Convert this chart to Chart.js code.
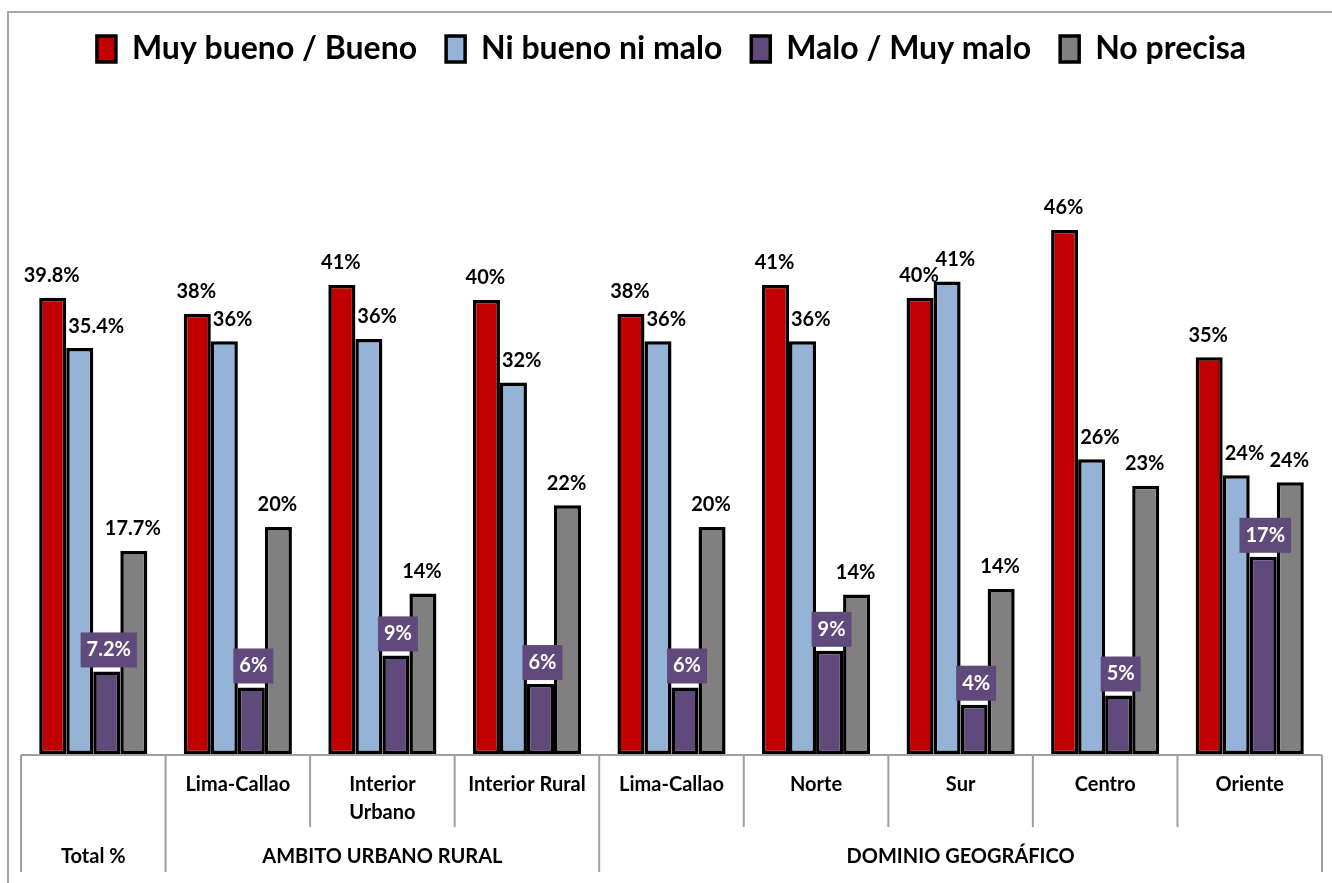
<!DOCTYPE html>
<html>
<head>
<meta charset="utf-8">
<script src="https://cdn.jsdelivr.net/npm/chart.js@4/dist/chart.umd.min.js"></script>
<style>
    html, body { margin: 0; padding: 0; background: #fff; }
    #wrap { width: 1332px; height: 883px; }
</style>
</head>
<body>
<div id="wrap"><canvas id="chart" width="1332" height="883"></canvas></div>
<script>
// Categorías (eje X) y grupos de la tabla inferior
const categories = ['', 'Lima-Callao', ['Interior', 'Urbano'], 'Interior Rural', 'Lima-Callao', 'Norte', 'Sur', 'Centro', 'Oriente'];
const groupNames = ['Total %', 'AMBITO URBANO RURAL', 'DOMINIO GEOGRÁFICO'];
const groupStart = [0, 1, 4];

// Series (%)
const seriesNames = ['Muy bueno / Bueno', 'Ni bueno ni malo', 'Malo / Muy malo', 'No precisa'];
const muyBueno  = [39.8, 38.4, 40.9, 39.6, 38.4, 40.9, 39.8, 45.7, 34.6];
const niBueno   = [35.4, 36.0, 36.2, 32.4, 36.0, 36.0, 41.2, 25.7, 24.3];
const malo      = [7.2, 5.8, 8.6, 6.1, 5.8, 9.0, 4.3, 5.1, 17.2];
const noPrecisa = [17.7, 19.8, 14.0, 21.7, 19.8, 13.9, 14.4, 23.4, 23.7];

const colors = ['#C00000', '#95B3D7', '#604A7B', '#808080'];
const FONT = 'Lato';

// Total con un decimal, el resto redondeado
function fmt(v, i) {
    return (i === 0 ? v.toFixed(1) : Math.round(v)) + '%';
}

// Marco del gráfico
const framePlugin = {
    id: 'frame',
    beforeDraw(chart) {
        const ctx = chart.ctx;
        ctx.save();
        ctx.strokeStyle = '#A6A6A6';
        ctx.lineWidth = 2;
        ctx.beginPath();
        ctx.moveTo(8, chart.height);
        ctx.lineTo(8, 12);
        ctx.lineTo(chart.width, 12);
        ctx.stroke();
        ctx.restore();
    }
};

// Tabla de categorías bajo el eje
const tablePlugin = {
    id: 'table',
    beforeDatasetsDraw(chart) {
        const ctx = chart.ctx;
        const x = chart.scales.x;
        const bottom = chart.chartArea.bottom;
        const n = categories.length;
        const half = (x.getPixelForValue(1) - x.getPixelForValue(0)) / 2;
        const edge = i => (i < n ? x.getPixelForValue(i) - half : x.getPixelForValue(n - 1) + half);

        ctx.save();
        ctx.strokeStyle = '#A0A0A0';
        ctx.lineWidth = 2;
        ctx.beginPath();
        ctx.moveTo(edge(0), bottom + 1);
        ctx.lineTo(edge(n), bottom + 1);
        for (let i = 0; i <= n; i++) {
            const full = groupStart.includes(i) || i === n;
            ctx.moveTo(edge(i), bottom + 1);
            ctx.lineTo(edge(i), bottom + (full ? 118 : 73));
        }
        ctx.stroke();

        ctx.fillStyle = '#000';
        ctx.font = 'bold 20px ' + FONT;
        ctx.textAlign = 'center';
        ctx.textBaseline = 'middle';
        groupNames.forEach((name, g) => {
            const from = groupStart[g];
            const to = g + 1 < groupStart.length ? groupStart[g + 1] : n;
            ctx.fillText(name, (edge(from) + edge(to)) / 2, bottom + 103);
        });
        ctx.restore();
    }
};

// Etiquetas de datos
const labelPlugin = {
    id: 'barLabels',
    afterDatasetsDraw(chart) {
        const ctx = chart.ctx;
        ctx.save();
        ctx.textBaseline = 'middle';
        chart.data.datasets.forEach((ds, di) => {
            const meta = chart.getDatasetMeta(di);
            meta.data.forEach((bar, i) => {
                const txt = fmt(ds.data[i], i);
                if (di === 2) {
                    ctx.font = 'bold 20px ' + FONT;
                    const w = ctx.measureText(txt).width + 12;
                    const h = 35;
                    const cx = bar.x + 2;
                    ctx.fillStyle = colors[2];
                    ctx.fillRect(cx - w / 2, bar.y - 4 - h, w, h);
                    ctx.fillStyle = '#fff';
                    ctx.textAlign = 'center';
                    ctx.fillText(txt, cx, bar.y - 4 - h / 2);
                } else {
                    ctx.font = 'bold 20px ' + FONT;
                    ctx.fillStyle = '#000';
                    if (di === 1) {
                        ctx.textAlign = 'left';
                        ctx.fillText(txt, bar.x - bar.width / 2 + 2, bar.y - 22);
                    } else {
                        ctx.textAlign = 'center';
                        ctx.fillText(txt, bar.x - 1, bar.y - 22);
                    }
                }
            });
        });
        ctx.restore();
    }
};

const seriesData = [muyBueno, niBueno, malo, noPrecisa];

new Chart(document.getElementById('chart'), {
    type: 'bar',
    data: {
        labels: categories,
        datasets: seriesNames.map((name, k) => ({
            label: name,
            data: seriesData[k],
            backgroundColor: colors[k],
            borderColor: '#000',
            borderWidth: 3.5,
            borderSkipped: false,
            categoryPercentage: 0.748,
            barPercentage: 1
        }))
    },
    options: {
        responsive: false,
        animation: false,
        devicePixelRatio: 1,
        layout: { padding: { top: 4, left: 21, right: 10, bottom: 0 } },
        plugins: {
            legend: {
                position: 'top',
                maxHeight: 62,
                labels: {
                    color: '#000',
                    font: { family: FONT, weight: 'bold', size: 32 },
                    boxWidth: 19,
                    boxHeight: 26,
                    padding: 29
                }
            },
            tooltip: { enabled: false }
        },
        scales: {
            x: {
                grid: { display: false, drawTicks: false },
                border: { display: false },
                ticks: {
                    color: '#000',
                    font: { family: FONT, weight: 'bold', size: 20, lineHeight: 1.4 },
                    padding: 17,
                    autoSkip: false,
                    maxRotation: 0
                },
                afterFit: scale => { scale.height = 129; }
            },
            y: {
                display: false,
                min: 0,
                max: 60,
                afterFit: scale => { scale.width = 0; }
            }
        }
    },
    plugins: [framePlugin, tablePlugin, labelPlugin]
});
</script>
</body>
</html>
